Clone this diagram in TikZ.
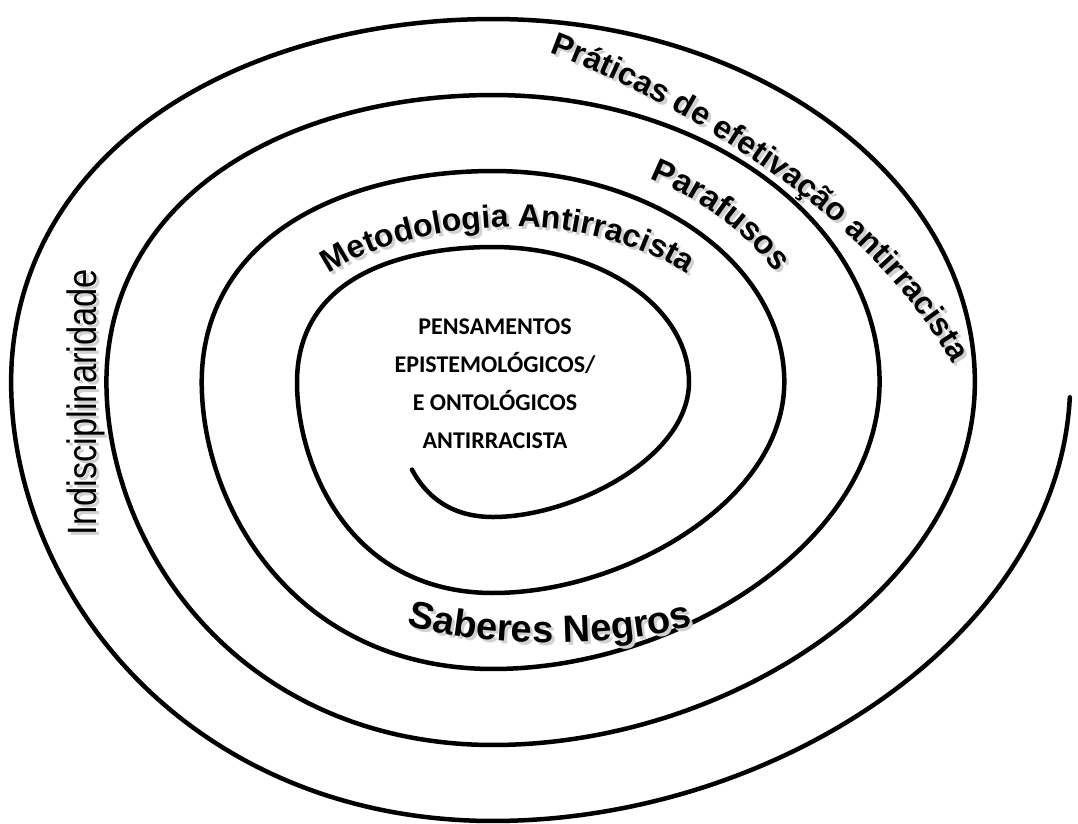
\documentclass[tikz,border=0pt]{standalone}
\usepackage{fontspec}
\setmainfont{Liberation Sans}
\newfontfamily\centrefont{Carlito}
\newfontfamily\narrowfont[FakeStretch=0.84]{Liberation Sans}
\usetikzlibrary{decorations.text}

\begin{document}
\begin{tikzpicture}[
      x=1pt, y=-1pt,
      declare function={
        radA(\t)=100.7+95.3*(floor((\t-180)/360)+(1-cos(360*min((\t-180)/360-floor((\t-180)/360),0.5)))/2);
        radB(\t)=59+76*(floor((\t-90)/360)+(1-cos(360*min((\t-90)/360-floor((\t-90)/360),0.5)))/2);
        lamP(\s)=0.00037*(\s-46)^2+0.1;
        lamM(\s)=0.00005033*(\s-122.27)^2+0.2075;
      },
      spiral/.style={line width=4.5pt, line join=round, line cap=round},
      centre/.style={font=\centrefont\bfseries\fontsize{24}{38}\selectfont, align=center, inner sep=0pt},
      sidelabel/.style={font=\narrowfont\fontsize{41}{41}\selectfont, inner sep=0pt}
    ]
    \useasboundingbox (0,0) rectangle (1078,823);
    % spiral
    \draw[spiral] plot[domain=225:1798, samples=1400]
      ({493+radA(\x)*cos(\x)},{382-radB(\x)*sin(\x)});
    % labels, soft shadow first
    \foreach \off/\shade in {3/black!18, 0/black} {
      \begin{scope}[xshift=\off pt, yshift=-\off pt]
        \path[decorate, decoration={text along path, text align=center, text color=\shade,
            text={|\fontsize{32}{32}\selectfont\bfseries|Práticas de efetivação antirracista}}]
          plot[domain=1164:1081.5, samples=90]
          ({493+(radA(\x)+95.3*lamP(\x-1080))*cos(\x)},
           {382-(radB(\x)+76*lamP(\x-1080))*sin(\x)});
        \path[decorate, decoration={text along path, text align=center, text color=\shade,
            text={|\fontsize{33}{33}\selectfont\bfseries|Parafusos}}]
          plot[domain=783:745, samples=40]
          ({493+(radA(\x)+95.3*0.3)*cos(\x)},{382-(radB(\x)+76*0.3)*sin(\x)});
        \path[decorate, decoration={text along path, text align=center, text color=\shade,
            text={|\fontsize{32}{32}\selectfont\bfseries|Metodologia Antirracista}}]
          plot[domain=503:395, samples=90]
          ({493+(radA(\x)+95.3*lamM(\x-360))*cos(\x)},
           {382-(radB(\x)+76*lamM(\x-360))*sin(\x)});
        \path[decorate, decoration={text along path, text align=center, text color=\shade,
            text={|\fontsize{38}{38}\selectfont\bfseries|Saberes Negros}}]
          (398,622) .. controls (478,649) and (622,649) .. (702,623);
        \node[sidelabel, text=\shade, rotate=90, anchor=base] (indisc) at (96,402) {Indisciplinaridade};
      \end{scope}
    }
    \node[centre] (pens) at (495,384) {PENSAMENTOS\\EPISTEMOLÓGICOS/\\E ONTOLÓGICOS\\ANTIRRACISTA};
  \end{tikzpicture}
\end{document}
